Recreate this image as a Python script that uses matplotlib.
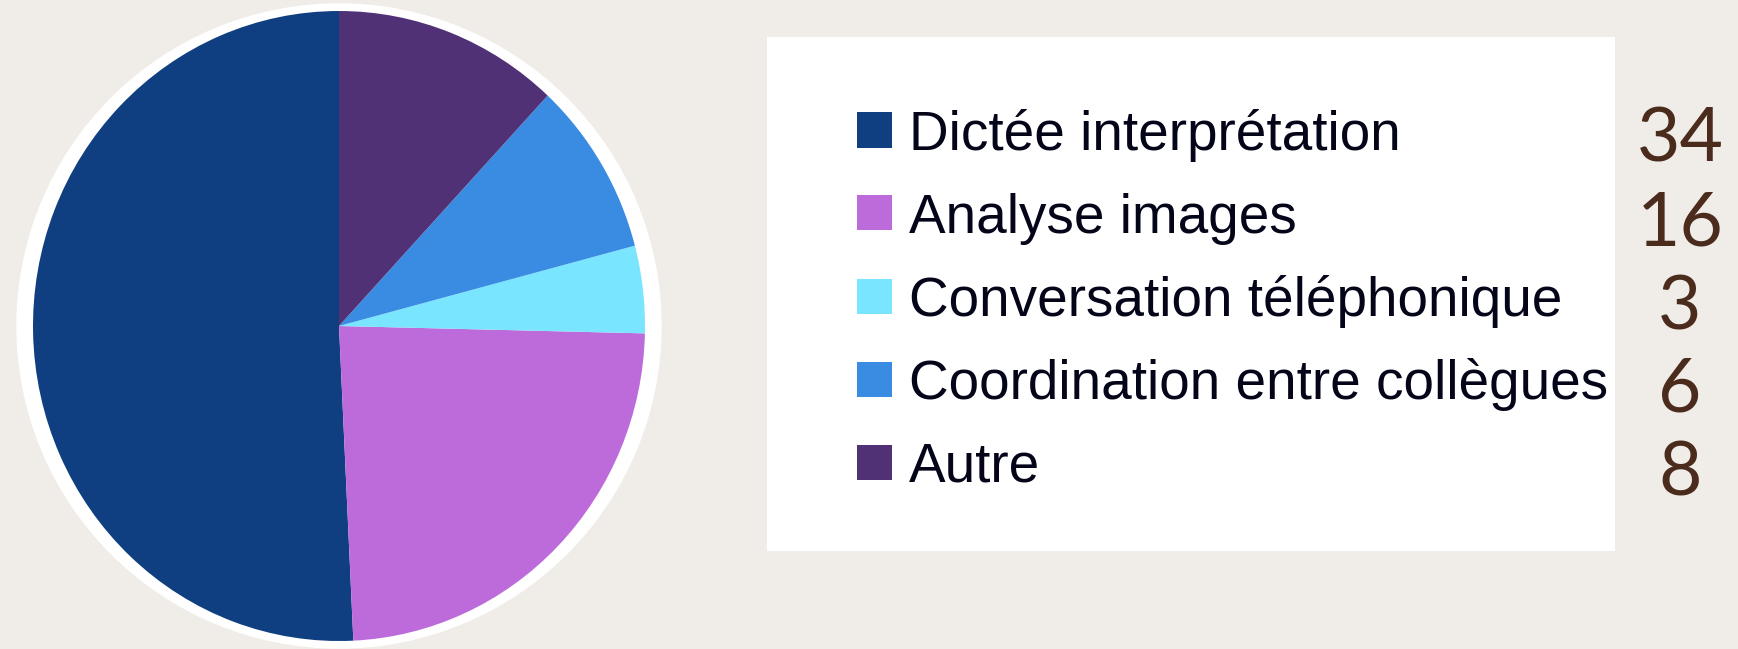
import matplotlib
matplotlib.use("Agg")
import matplotlib.pyplot as plt
from matplotlib.patches import Ellipse, Rectangle

# data
labels = ["Dictée interprétation", "Analyse images", "Conversation téléphonique",
          "Coordination entre collègues", "Autre"]
counts = [34, 16, 3, 6, 8]
colors = ["#0f3f80", "#bd6bdb", "#7ae5ff", "#3a8ce3", "#513176"]

W, H = 1738, 649
bg = "#f0ede9"

fig = plt.figure(figsize=(W / 100, H / 100), dpi=100, facecolor=bg)

# pie axes (pie is slightly taller than wide in the original)
sx, sy = 306.0, 315.0      # px per data unit
cx, cy = 339.0, 323.0      # centre in px from left / bottom
aw = 700.0
ax = fig.add_axes([0, 0, aw / W, 1])
ax.set_facecolor(bg)
ax.add_patch(Ellipse((0, 0), 2 * 322 / sx, 2 * 322 / sy, color="white", zorder=0))
ax.pie(counts, colors=colors, startangle=90, counterclock=True,
       wedgeprops=dict(linewidth=0))
ax.set_aspect("auto")
ax.set_xlim(-cx / sx, (aw - cx) / sx)
ax.set_ylim(-cy / sy, (H - cy) / sy)
ax.axis("off")

# legend box
fig.patches.append(Rectangle((767 / W, 1 - 551 / H), (1615 - 767) / W, (551 - 37) / H,
                             transform=fig.transFigure, facecolor="white",
                             edgecolor="none", zorder=1))

row_mid = [130, 213, 296, 379, 462]
num_base = [161, 246, 330, 412, 495]
sq = 35
for i, (lab, c, n) in enumerate(zip(labels, colors, counts)):
    y = row_mid[i]
    fig.patches.append(Rectangle((857 / W, 1 - (y + sq / 2) / H), sq / W, sq / H,
                                 transform=fig.transFigure, facecolor=c,
                                 edgecolor="none", zorder=2))
    fig.text(909 / W, 1 - (y + 20) / H, lab, family="Liberation Sans",
             fontsize=39.5, color="#05051a", va="baseline", ha="left", zorder=3)
    fig.text(1680 / W, 1 - num_base[i] / H, str(n), family="Lato",
             fontweight="normal", fontsize=54, color="#4b2c1c",
             va="baseline", ha="center", zorder=3)

fig.savefig("out.png", dpi=100, facecolor=bg)
